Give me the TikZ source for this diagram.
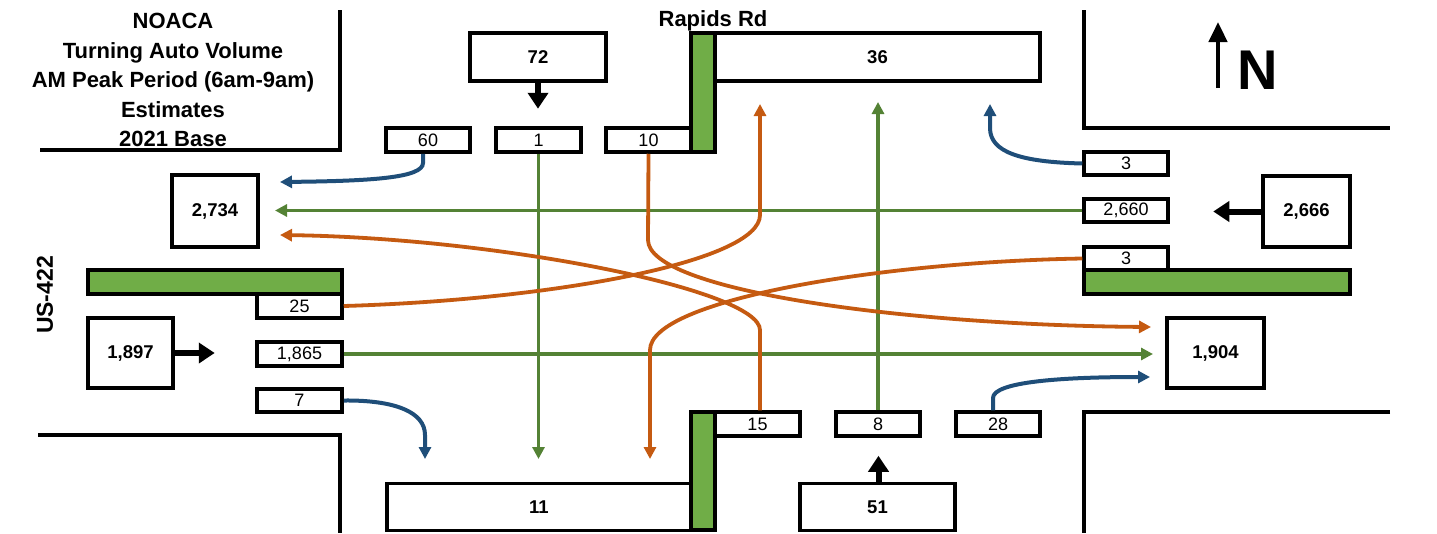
\documentclass[tikz,border=0pt]{standalone}
\usepackage{fontspec}
\setmainfont{Liberation Sans}
\usetikzlibrary{arrows.meta}
\definecolor{lgreen}{HTML}{548235}
\definecolor{lorange}{HTML}{C55A11}
\definecolor{lblue}{HTML}{1F4E79}
\definecolor{gfill}{HTML}{70AD47}
\begin{document}
\begin{tikzpicture}[x=1pt,y=-1pt,
  box/.style={draw, line width=3.5pt, fill=white, inner sep=0pt, font=\fontsize{18}{18}\selectfont},
  bbox/.style={box, font=\bfseries\fontsize{18.5}{18.5}\selectfont},
  gbar/.style={draw, line width=3.5pt, fill=gfill, inner sep=0pt},
  road/.style={line width=3.5pt},
  flowtip/.style={-{Triangle[length=12pt,width=12pt]}},
  gflow/.style={flowtip, draw=lgreen, line width=3.6pt},
  oflow/.style={flowtip, draw=lorange, line width=3.8pt},
  bflow/.style={flowtip, draw=lblue, line width=4pt},
  blk/.style={-{Triangle[length=16pt,width=20pt]}, line width=6pt}
]
\useasboundingbox (0,0) rectangle (1437,533);
% road edges
\draw[road] (340,10) -- (340,150) -- (40,150);
\draw[road] (1084,10) -- (1084,128) -- (1390,128);
\draw[road] (38,435) -- (340,435) -- (340,533);
\draw[road] (1390,412) -- (1084,412) -- (1084,533);
% texts
\node[align=center, font=\bfseries\fontsize{22}{29.5}\selectfont] (title) at (173,80)
  {NOACA\\Turning Auto Volume\\AM Peak Period (6am-9am)\\Estimates\\2021 Base};
\node[font=\bfseries\fontsize{22}{22}\selectfont] (rapids) at (713,21) {Rapids Rd};
\node[font=\bfseries\fontsize{23}{23}\selectfont, rotate=90] (us) at (45,295) {US-422};
\node[font=\bfseries\fontsize{56}{56}\selectfont] (N) at (1258,70) {N};
\coordinate (nb) at (1218,88);
\coordinate (nt) at (1218,22);
\draw[-{Triangle[length=20pt,width=18pt]}, line width=4.5pt] (nb) -- (nt);
% green bars
\node[gbar, minimum width=24pt, minimum height=119pt] (gtop) at (703,92.5) {};
\node[gbar, minimum width=254pt, minimum height=24pt] (gleft) at (215,282) {};
\node[gbar, minimum width=266pt, minimum height=24pt] (gright) at (1217,282) {};
\node[gbar, minimum width=24pt, minimum height=118pt] (gbot) at (703,471) {};
% big boxes
\node[bbox, minimum width=136pt, minimum height=48pt] (b72) at (538,57) {72};
\node[bbox, minimum width=325pt, minimum height=48pt] (b36) at (877.5,57) {36};
\node[bbox, minimum width=86pt, minimum height=72pt] (b2734) at (215,211) {2,734};
\node[bbox, minimum width=85pt, minimum height=70pt] (b1897) at (130.5,353) {1,897};
\node[bbox, minimum width=87pt, minimum height=71pt] (b2666) at (1306.5,211.5) {2,666};
\node[bbox, minimum width=97pt, minimum height=70pt] (b1904) at (1215.5,353) {1,904};
\node[bbox, minimum width=304pt, minimum height=47pt] (b11) at (539,507) {11};
\node[bbox, minimum width=155pt, minimum height=47pt] (b51) at (877.5,507) {51};
% small boxes
\node[box, minimum width=84pt, minimum height=24pt] (b60) at (428,140) {60};
\node[box, minimum width=85pt, minimum height=24pt] (b1) at (538.5,140) {1};
\node[box, minimum width=85pt, minimum height=24pt] (b10) at (648.5,140) {10};
\node[box, minimum width=85pt, minimum height=24pt] (b25) at (299.5,306) {25};
\node[box, minimum width=85pt, minimum height=24pt] (b1865) at (299.5,354) {1,865};
\node[box, minimum width=85pt, minimum height=23pt] (b7) at (299.5,400.5) {7};
\node[box, minimum width=84pt, minimum height=23pt] (bR3a) at (1126,163.5) {3};
\node[box, minimum width=84pt, minimum height=23pt] (b2660) at (1126,210.5) {2,660};
\node[box, minimum width=84pt, minimum height=23pt] (bR3b) at (1126,258.5) {3};
\node[box, minimum width=85pt, minimum height=24pt] (b15) at (757.5,424) {15};
\node[box, minimum width=84pt, minimum height=24pt] (b8) at (878,424) {8};
\node[box, minimum width=84pt, minimum height=24pt] (b28) at (998,424) {28};
% block arrows
\draw[blk] (b72.south) -- ++(0,26);
\draw[blk] (b1897.east) -- ++(40,0);
\draw[blk] (b2666.west) -- ++(-48,0);
\draw[blk] ([xshift=1pt]b51.north) -- ++(0,-26);
% free ends
\coordinate (eW1) at (280,182);
\coordinate (eW2) at (275,210.5);
\coordinate (eW3) at (280,235);
\coordinate (eN1) at (760,104);
\coordinate (eN2) at (878,102);
\coordinate (eN3) at (990,104);
\coordinate (eE1) at (1151,327);
\coordinate (eE2) at (1153,354);
\coordinate (eE3) at (1150,377);
\coordinate (eS1) at (425,459);
\coordinate (eS2) at (538.5,459);
\coordinate (eS3) at (650,459);
% green through
\draw[gflow] (b1.south) -- (eS2);
\draw[gflow] (b2660.west) -- (eW2);
\draw[gflow] (b1865.east) -- (eE2);
\draw[gflow] (b8.north) -- (eN2);
% blue right turns
\draw[bflow] ([xshift=-5pt]b60.south) -- (423,163) .. controls (423,178) and (370,181) .. (eW1);
\draw[bflow] (bR3a.west) .. controls (1020,162) and (990,152) .. (990,128) -- (eN3);
\draw[bflow] (b7.east) .. controls (395,400) and (425,412) .. (425,435) -- (eS1);
\draw[bflow] ([xshift=-5pt]b28.north) -- (993,398) .. controls (993,382) and (1060,377) .. (eE3);
% orange left turns
\draw[oflow] (b10.south) -- (648,240) .. controls (648,290) and (900,325) .. (eE1);
\draw[oflow] ([xshift=2.5pt]b15.north) -- (760,330) .. controls (760,290) and (500,238) .. (eW3);
\draw[oflow] (b25.east) .. controls (550,300) and (760,262) .. (760,215) -- (eN1);
\draw[oflow] (bR3b.west) .. controls (880,262) and (650,300) .. (650,350) -- (eS3);
\end{tikzpicture}
\end{document}
